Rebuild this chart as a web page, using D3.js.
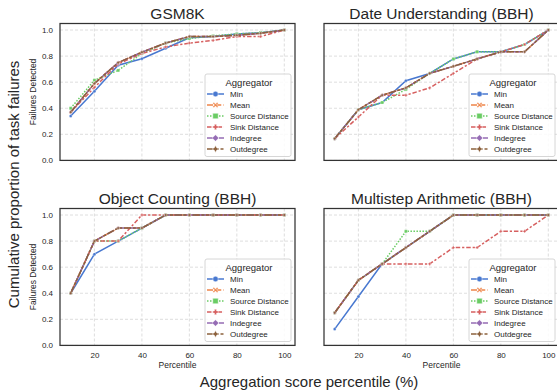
<!DOCTYPE html>
<html>
<head>
<meta charset="utf-8">
<script src="https://cdn.jsdelivr.net/npm/d3@7"></script>
<style>
  body { margin: 0; background: #fff; }
  text { font-family: "Liberation Sans", Arial, sans-serif; fill: #262626; }
</style>
</head>
<body>
<div id="viz"></div>
<script>
// data
var percentiles = [10, 20, 30, 40, 50, 60, 70, 80, 90, 100];
var aggregators = ["Min", "Mean", "Source Distance", "Sink Distance", "Indegree", "Outdegree"];
var titles = ["GSM8K", "Date Understanding (BBH)", "Object Counting (BBH)", "Multistep Arithmetic (BBH)"];
var yTicks = [0, 0.2, 0.4, 0.6, 0.8, 1.0];
var xTicks = [20, 40, 60, 80, 100];

// one row per aggregator, same order as aggregators
var gsm8k = [
  [0.34, 0.53, 0.73, 0.78, 0.86, 0.94, 0.95, 0.97, 0.98, 1.0],
  [0.37, 0.59, 0.75, 0.83, 0.90, 0.95, 0.95, 0.96, 0.975, 1.0],
  [0.40, 0.615, 0.69, 0.82, 0.90, 0.935, 0.955, 0.97, 0.98, 1.0],
  [0.37, 0.56, 0.74, 0.82, 0.87, 0.90, 0.92, 0.95, 0.95, 1.0],
  [0.37, 0.59, 0.75, 0.83, 0.90, 0.95, 0.95, 0.96, 0.975, 1.0],
  [0.37, 0.59, 0.75, 0.83, 0.90, 0.95, 0.95, 0.96, 0.975, 1.0]
];
var dateUnderstanding = [
  [0.167, 0.389, 0.444, 0.611, 0.667, 0.778, 0.833, 0.833, 0.889, 1.0],
  [0.167, 0.389, 0.50, 0.556, 0.667, 0.722, 0.778, 0.833, 0.833, 1.0],
  [0.167, 0.389, 0.444, 0.545, 0.667, 0.778, 0.833, 0.833, 0.889, 1.0],
  [0.167, 0.333, 0.50, 0.50, 0.556, 0.667, 0.778, 0.833, 0.889, 1.0],
  [0.167, 0.389, 0.50, 0.556, 0.667, 0.722, 0.778, 0.833, 0.833, 1.0],
  [0.167, 0.389, 0.50, 0.556, 0.667, 0.722, 0.778, 0.833, 0.833, 1.0]
];
var objectCounting = [
  [0.4, 0.7, 0.8, 0.9, 1, 1, 1, 1, 1, 1],
  [0.4, 0.8, 0.9, 0.9, 1, 1, 1, 1, 1, 1],
  [0.4, 0.8, 0.8, 0.9, 1, 1, 1, 1, 1, 1],
  [0.4, 0.8, 0.8, 1.0, 1, 1, 1, 1, 1, 1],
  [0.4, 0.8, 0.9, 0.9, 1, 1, 1, 1, 1, 1],
  [0.4, 0.8, 0.9, 0.9, 1, 1, 1, 1, 1, 1]
];
var multistepArithmetic = [
  [0.125, 0.375, 0.625, 0.75, 0.875, 1, 1, 1, 1, 1],
  [0.25, 0.5, 0.625, 0.75, 0.875, 1, 1, 1, 1, 1],
  [0.25, 0.5, 0.625, 0.875, 0.875, 1, 1, 1, 1, 1],
  [0.25, 0.5, 0.625, 0.625, 0.625, 0.75, 0.75, 0.875, 0.875, 1],
  [0.25, 0.5, 0.625, 0.75, 0.875, 1, 1, 1, 1, 1],
  [0.25, 0.5, 0.625, 0.75, 0.875, 1, 1, 1, 1, 1]
];
var panelData = [gsm8k, dateUnderstanding, objectCounting, multistepArithmetic];

// styles (seaborn muted + default dashes)
var colors = ["#4878d0", "#ee854a", "#6acc64", "#d65f5f", "#956cb4", "#8c613c"];
var dashes = [null, "6,2.25", "1.5,1.5", "4.5,1.9,2.25,1.9", "7.5,1.5,1.5,1.5", "7.5,1.5,3,1.5,3,1.5"];

function markerPath(i, s) {
  var h = s / 2;
  if (i == 0) return d3.symbol(d3.symbolCircle, s * s * 0.785)();
  if (i == 1) { // X
    var t = h * 0.38;
    return "M" + [[-h, -h + t], [-h + t, -h], [0, -t], [h - t, -h], [h, -h + t], [t, 0], [h, h - t], [h - t, h], [0, t], [-h + t, h], [-h, h - t], [-t, 0]].join("L") + "Z";
  }
  if (i == 2) return "M" + (-h) + "," + (-h) + "h" + s + "v" + s + "h" + (-s) + "Z";
  if (i == 3) { // P
    var w = h * 0.4;
    return "M" + [[-w, -h], [w, -h], [w, -w], [h, -w], [h, w], [w, w], [w, h], [-w, h], [-w, w], [-h, w], [-h, -w], [-w, -w]].join("L") + "Z";
  }
  if (i == 4) return "M0," + (-h * 1.2) + "L" + (h * 1.2) + ",0L0," + (h * 1.2) + "L" + (-h * 1.2) + ",0Z";
  var r = h * 1.25, q = r * 0.35;
  return "M0," + (-r) + "L" + q + "," + (-q) + "L" + r + ",0L" + q + "," + q + "L0," + r + "L" + (-q) + "," + q + "L" + (-r) + ",0L" + (-q) + "," + (-q) + "Z";
}

var width = 557, height = 391;
var svg = d3.select("#viz").append("svg")
  .attr("width", width)
  .attr("height", height);

// panel boxes
var cols = [[60, 295], [324, 559]];
var rows = [[23.5, 160.4], [208.5, 345.4]];

panelData.forEach(function (series, p) {
  var c = p % 2, r = Math.floor(p / 2);
  var x = d3.scaleLinear().domain([5.5, 104.5]).range(cols[c]);
  var y = d3.scaleLinear().domain([0, 1.05]).range([rows[r][1], rows[r][0]]);
  var g = svg.append("g");

  // grid
  g.selectAll(".gx").data(xTicks).enter().append("line")
    .attr("x1", x).attr("x2", x).attr("y1", rows[r][0]).attr("y2", rows[r][1])
    .attr("stroke", "#d5d5d5").attr("stroke-width", 0.8).attr("stroke-dasharray", "3,2");
  g.selectAll(".gy").data(yTicks).enter().append("line")
    .attr("y1", y).attr("y2", y).attr("x1", cols[c][0]).attr("x2", cols[c][1])
    .attr("stroke", "#d5d5d5").attr("stroke-width", 0.8).attr("stroke-dasharray", "3,2");

  // axes
  if (c == 0) {
    g.append("g")
      .attr("transform", "translate(" + cols[c][0] + ",0)")
      .call(d3.axisLeft(y).tickValues(yTicks).tickFormat(d3.format(".1f")).tickSize(0).tickPadding(7))
      .call(function (a) { a.select(".domain").remove(); })
      .selectAll("text").style("font-size", "8px").attr("fill", "#444");
    g.append("text")
      .attr("transform", "translate(36," + ((rows[r][0] + rows[r][1]) / 2) + ") rotate(-90)")
      .style("text-anchor", "middle").style("font-size", "8.5px")
      .text("Failures Detected");
  }
  if (r == 1) {
    g.append("g")
      .attr("transform", "translate(0," + rows[r][1] + ")")
      .call(d3.axisBottom(x).tickValues(xTicks).tickSize(0).tickPadding(7))
      .call(function (a) { a.select(".domain").remove(); })
      .selectAll("text").style("font-size", "8px").attr("fill", "#444");
    g.append("text")
      .attr("x", (cols[c][0] + cols[c][1]) / 2).attr("y", 368)
      .style("text-anchor", "middle").style("font-size", "8.5px")
      .text("Percentile");
  }

  // title
  g.append("text")
    .attr("x", (cols[c][0] + cols[c][1]) / 2).attr("y", rows[r][0] - 4.5)
    .style("text-anchor", "middle").style("font-size", "15.5px")
    .text(titles[p]);

  // lines
  var line = d3.line().x(function (d, i) { return x(percentiles[i]); }).y(function (d) { return y(d); });
  series.forEach(function (vals, k) {
    g.append("path").datum(vals)
      .attr("d", line)
      .attr("fill", "none")
      .attr("stroke", colors[k])
      .attr("stroke-width", 1.5)
      .attr("stroke-dasharray", dashes[k]);
    g.selectAll(".m" + k).data(vals).enter().append("path")
      .attr("transform", function (d, i) { return "translate(" + x(percentiles[i]) + "," + y(d) + ")"; })
      .attr("d", markerPath(k, 3))
      .attr("fill", colors[k]).attr("stroke", "#fff").attr("stroke-width", 0.3);
  });

  // frame
  g.append("rect")
    .attr("x", cols[c][0]).attr("y", rows[r][0])
    .attr("width", cols[c][1] - cols[c][0]).attr("height", rows[r][1] - rows[r][0])
    .attr("fill", "none").attr("stroke", "#333").attr("stroke-width", 1.25);

  // legend
  var lx = c == 0 ? 205 : 469, ly = rows[r][0] + 50.5;
  var lg = g.append("g").attr("transform", "translate(" + lx + "," + ly + ")");
  lg.append("rect")
    .attr("width", 86).attr("height", 82.5).attr("rx", 2)
    .attr("fill", "#fff").attr("fill-opacity", 0.85)
    .attr("stroke", "#cccccc").attr("stroke-width", 0.8);
  lg.append("text").attr("x", 44).attr("y", 11.5)
    .style("text-anchor", "middle").style("font-size", "9.5px")
    .text("Aggregator");
  var items = lg.selectAll(".item").data(aggregators).enter().append("g")
    .attr("transform", function (d, i) { return "translate(0," + (20 + i * 11) + ")"; });
  items.append("line")
    .attr("x1", 2).attr("x2", 19)
    .attr("stroke", function (d, i) { return colors[i]; })
    .attr("stroke-width", 1.5)
    .attr("stroke-dasharray", function (d, i) { return dashes[i]; });
  items.append("path")
    .attr("transform", "translate(10.5,0)")
    .attr("d", function (d, i) { return markerPath(i, 5.5); })
    .attr("fill", function (d, i) { return colors[i]; })
    .attr("stroke", "#fff").attr("stroke-width", 0.5);
  items.append("text")
    .attr("x", 25).attr("y", 3)
    .style("font-size", "8px")
    .text(function (d) { return d; });
});

// figure labels
svg.append("text")
  .attr("transform", "translate(19," + ((rows[0][0] + rows[1][1]) / 2) + ") rotate(-90)")
  .style("text-anchor", "middle").style("font-size", "15px")
  .text("Cumulative proportion of task failures");
svg.append("text")
  .attr("x", 309).attr("y", 387)
  .style("text-anchor", "middle").style("font-size", "15px")
  .text("Aggregation score percentile (%)");
</script>
</body>
</html>
